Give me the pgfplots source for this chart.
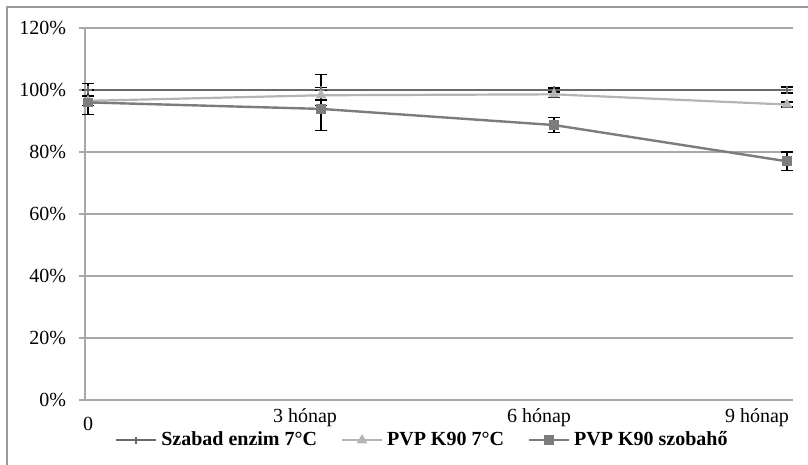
\documentclass[border=0pt]{standalone}
\usepackage{fontspec}
\setmainfont{Liberation Serif}
\usepackage{pgfplots}
\pgfplotsset{compat=1.18}
\definecolor{sone}{HTML}{6A6A6A}
\definecolor{stwo}{HTML}{B4B4B4}
\definecolor{sthree}{HTML}{7C7C7C}
\definecolor{gridc}{HTML}{A8A8A8}
\definecolor{framec}{HTML}{9A9A9A}

\begin{document}
\begin{tikzpicture}
\useasboundingbox (-42.5pt,-32.5pt) rectangle (361.5pt,200pt);
\draw[framec, line width=1pt] (-39pt,-32.5pt) -- (-39pt,196.5pt) -- (361.5pt,196.5pt);
\begin{axis}[
  at={(0,0)}, anchor=south west,
  scale only axis, width=354pt, height=186pt,
  xmin=-0.013, xmax=3.026, ymin=0, ymax=120,
  axis x line*=bottom, axis y line*=left,
  axis line style={gridc, line width=0.8pt},
  xtick={0,1,2,3},
  xticklabels={{\rule{0pt}{10.5pt}0},{3 hónap\hspace*{16pt}},{6 hónap\hspace*{15pt}},{9 hónap\hspace*{30pt}}},
  x tick style={draw=none},
  ytick={0,20,40,60,80,100,120},
  yticklabels={0\%,20\%,40\%,60\%,80\%,100\%,120\%},
  y tick style={gridc, line width=0.8pt},
  tick align=outside, major tick length=3pt,
  ymajorgrids, grid style={gridc, line width=0.8pt},
  tick label style={font=\fontsize{10}{12}\selectfont},
  yticklabel style={xshift=-3pt},
  xticklabel style={yshift=2pt},
  clip=false,
  legend style={at={(0.478,-0.108)}, anchor=center, draw=none, fill=none,
    legend columns=3, font=\bfseries\fontsize{10}{12}\selectfont,
    /tikz/every even column/.append style={column sep=10pt}},
  legend image code/.code={\draw[mark repeat=2,mark phase=2] plot coordinates {(0cm,0cm)(0.35cm,0cm)(0.7cm,0cm)};},
  error bars/error bar style={black, line width=0.7pt},
  error bars/error mark options={black, rotate=90, mark size=3pt, line width=0.7pt},
]
\addplot[sone, line width=1.1pt, mark=+, mark size=1.8pt, mark options={solid},
  error bars/.cd, y dir=both, y explicit] coordinates {
(0,100) +- (0,2.0)
(1,100) +- (0,5.0)
(2,100) +- (0,0.6)
(3,100) +- (0,1.0)
};
\addlegendentry{Szabad enzim 7°C}
\addplot[stwo, line width=1.1pt, mark=triangle*, mark size=2pt,
  error bars/.cd, y dir=both, y explicit] coordinates {
(0,96.5) +- (0,1.5)
(1,98.3) +- (0,1.5)
(2,98.6) +- (0,1.0)
(3,95.3) +- (0,0.8)
};
\addlegendentry{PVP K90 7°C}
\addplot[sthree, line width=1.2pt, mark=square*, mark size=1.8pt,
  error bars/.cd, y dir=both, y explicit] coordinates {
(0,96.0) +- (0,4.0)
(1,93.9) +- (0,7.0)
(2,88.7) +- (0,2.4)
(3,77.0) +- (0,3.0)
};
\addlegendentry{PVP K90 szobahő}
\end{axis}
\end{tikzpicture}
\end{document}
